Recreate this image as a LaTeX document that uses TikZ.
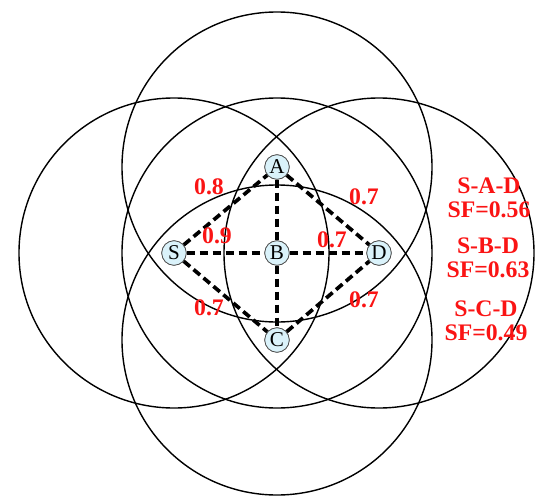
\documentclass[tikz,border=0pt]{standalone}
\usepackage{fontspec}
\setmainfont{Liberation Serif}
\usepackage{tikz}
\usetikzlibrary{positioning}
\usepackage{xcolor}

\definecolor{nodefill}{RGB}{218,242,250}
\definecolor{labelred}{RGB}{250,20,20}

\begin{document}
\begin{tikzpicture}[
    relay/.style={draw=black!70, fill=nodefill, circle, inner sep=0pt, minimum size=0.49cm, font=\fontsize{12}{12}\selectfont},
    linkline/.style={line width=2.1pt, dash pattern=on 4.8pt off 2.6pt},
    rangering/.style={line width=0.8pt},
    linkweight/.style={text=labelred, font=\fontsize{13.5}{14}\selectfont\bfseries},
    routelabel/.style={text=labelred, font=\fontsize{13.5}{13.6}\selectfont\bfseries, align=center}
]
    \useasboundingbox (-5.54,-4.84) rectangle (5.18,5.06);

    % Relay nodes
    \node[relay] (A) at (0,1.72) {A};
    \node[relay] (B) at (0,0) {B};
    \node[relay] (C) at (0,-1.74) {C};
    \node[relay] (S) at (-2.06,0) {S};
    \node[relay] (D) at (2.04,0) {D};

    % Transmission ranges
    \foreach \n in {A,B,C,S,D}
        \draw[rangering] (\n.center) circle (3.1cm);

    % Links
    \draw[linkline] (S) -- (A);
    \draw[linkline] (A) -- (D);
    \draw[linkline] (S) -- (C);
    \draw[linkline] (C) -- (D);
    \draw[linkline] (S) -- (B);
    \draw[linkline] (B) -- (D);
    \draw[linkline] (A) -- (B);
    \draw[linkline] (B) -- (C);

    % Redraw nodes on top
    \foreach \n/\p in {A/{0,1.72},B/{0,0},C/{0,-1.74},S/{-2.06,0},D/{2.04,0}}
        \node[relay] at (\p) {\n};

    % Link weights
    \node[linkweight] (wSA) at (-1.36,1.32) {0.8};
    \node[linkweight] (wAD) at (1.74,1.12) {0.7};
    \node[linkweight] (wSB) at (-1.20,0.34) {0.9};
    \node[linkweight] (wBD) at (1.10,0.26) {0.7};
    \node[linkweight] (wSC) at (-1.36,-1.10) {0.7};
    \node[linkweight] (wCD) at (1.74,-0.94) {0.7};

    % Path success factors
    \node[routelabel] (pA) at (4.24,1.10) {S-A-D\\SF=0.56};
    \node[routelabel] (pB) at (4.22,-0.09) {S-B-D\\SF=0.63};
    \node[routelabel] (pC) at (4.18,-1.36) {S-C-D\\SF=0.49};
\end{tikzpicture}
\end{document}
